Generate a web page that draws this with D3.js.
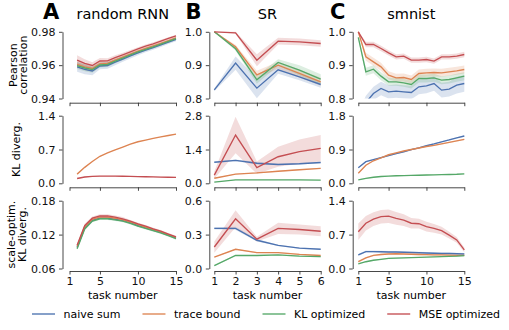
<!DOCTYPE html>
<html>
<head>
<meta charset="utf-8">
<script src="https://cdn.jsdelivr.net/npm/d3@7"></script>
<style>
  body { margin: 0; background: #fff; }
  svg { display: block; font-family: "DejaVu Sans", sans-serif; }
</style>
</head>
<body>
<div id="chart"></div>
<script>
// series order everywhere: naive sum, trace bound, KL optimized, MSE optimized
const seriesNames = ["naive sum", "trace bound", "KL optimized", "MSE optimized"];
const seriesColors = ["#4c72b0", "#dd8452", "#55a868", "#c44e52"];

const panelLetters = ["A", "B", "C"];
const panelTitles = ["random RNN", "SR", "smnist"];
const rowLabels = [["Pearson", "correlation"], ["KL diverg."], ["scale-optim.", "KL diverg."]];

// random RNN
const rnnTasks = [2, 3, 4, 5, 6, 7, 8, 9, 10, 11, 12, 13, 14, 15];
const rnnXTicks = [1, 5, 10, 15];
const rnnPearsonTicks = [0.94, 0.96, 0.98];
const rnnPearson = [
  [0.9590, 0.9575, 0.9565, 0.9595, 0.9598, 0.9618, 0.9636, 0.9655, 0.9673, 0.9690, 0.9705, 0.9721, 0.9738, 0.9755],
  [0.9605, 0.9590, 0.9580, 0.9608, 0.9610, 0.9630, 0.9648, 0.9666, 0.9684, 0.9700, 0.9715, 0.9731, 0.9747, 0.9763],
  [0.9597, 0.9583, 0.9573, 0.9601, 0.9604, 0.9624, 0.9642, 0.9661, 0.9679, 0.9695, 0.9710, 0.9726, 0.9742, 0.9759],
  [0.9630, 0.9610, 0.9598, 0.9625, 0.9626, 0.9645, 0.9662, 0.9680, 0.9698, 0.9714, 0.9728, 0.9744, 0.9760, 0.9775]
];
const rnnPearsonErr = [
  [0.003, 0.003, 0.0025, 0.002, 0.002, 0.0018, 0.0016, 0.0015, 0.0014, 0.0013, 0.0012, 0.0012, 0.0011, 0.0011],
  [0.002, 0.002, 0.0018, 0.0015, 0.0015, 0.0013, 0.0012, 0.0011, 0.001, 0.001, 0.001, 0.0009, 0.0009, 0.0009],
  [0.002, 0.002, 0.0018, 0.0015, 0.0015, 0.0013, 0.0012, 0.0011, 0.001, 0.001, 0.001, 0.0009, 0.0009, 0.0009],
  [0.003, 0.0025, 0.002, 0.0018, 0.0016, 0.0014, 0.0012, 0.0011, 0.001, 0.001, 0.0009, 0.0009, 0.0008, 0.0008]
];
const rnnKLTicks = [0.0, 0.7, 1.4];
const rnnKL = [
  null,
  [0.19, 0.33, 0.45, 0.56, 0.63, 0.69, 0.75, 0.81, 0.86, 0.895, 0.93, 0.96, 0.99, 1.02],
  null,
  [0.10, 0.13, 0.145, 0.15, 0.15, 0.148, 0.145, 0.142, 0.138, 0.135, 0.132, 0.128, 0.125, 0.122]
];
const rnnKLErr = [
  null,
  [0.005, 0.005, 0.005, 0.005, 0.005, 0.005, 0.005, 0.005, 0.005, 0.005, 0.005, 0.005, 0.005, 0.005],
  null,
  [0.008, 0.008, 0.008, 0.008, 0.008, 0.008, 0.008, 0.008, 0.008, 0.008, 0.008, 0.008, 0.008, 0.008]
];
const rnnScaleTicks = [0.06, 0.12, 0.18];
const rnnScale = [
  [0.097, 0.132, 0.145, 0.149, 0.149, 0.147, 0.145, 0.141, 0.136, 0.132, 0.128, 0.124, 0.119, 0.114],
  [0.099, 0.134, 0.147, 0.151, 0.151, 0.149, 0.146, 0.142, 0.138, 0.133, 0.129, 0.125, 0.120, 0.115],
  [0.095, 0.130, 0.144, 0.148, 0.148, 0.146, 0.144, 0.140, 0.135, 0.131, 0.127, 0.123, 0.118, 0.113],
  [0.101, 0.136, 0.149, 0.153, 0.153, 0.151, 0.148, 0.144, 0.139, 0.135, 0.130, 0.126, 0.121, 0.116]
];
const rnnScaleErr = [
  [0.002, 0.002, 0.002, 0.002, 0.002, 0.002, 0.002, 0.002, 0.002, 0.002, 0.002, 0.002, 0.002, 0.002],
  [0.002, 0.002, 0.002, 0.002, 0.002, 0.002, 0.002, 0.002, 0.002, 0.002, 0.002, 0.002, 0.002, 0.002],
  [0.002, 0.002, 0.002, 0.002, 0.002, 0.002, 0.002, 0.002, 0.002, 0.002, 0.002, 0.002, 0.002, 0.002],
  [0.003, 0.003, 0.003, 0.003, 0.003, 0.003, 0.003, 0.002, 0.002, 0.002, 0.002, 0.002, 0.002, 0.002]
];

// SR
const srTasks = [1, 2, 3, 4, 5, 6];
const srXTicks = [1, 2, 3, 4, 5, 6];
const srPearsonTicks = [0.8, 0.9, 1.0];
const srPearson = [
  [0.826, 0.906, 0.831, 0.886, 0.865, 0.842],
  [1.0, 0.955, 0.871, 0.900, 0.875, 0.850],
  [1.0, 0.949, 0.856, 0.908, 0.885, 0.858],
  [1.0, 0.997, 0.915, 0.972, 0.970, 0.965]
];
const srPearsonErr = [
  [0.004, 0.02, 0.03, 0.012, 0.01, 0.01],
  [0, 0.006, 0.012, 0.01, 0.012, 0.012],
  [0, 0.006, 0.012, 0.01, 0.015, 0.015],
  [0, 0.003, 0.018, 0.01, 0.01, 0.01]
];
const srKLTicks = [0.0, 1.4, 2.8];
const srKL = [
  [0.87, 0.95, 0.83, 0.78, 0.81, 0.86],
  [0.21, 0.38, 0.43, 0.50, 0.56, 0.62],
  [0.05, 0.14, 0.14, 0.14, 0.14, 0.13],
  [0.34, 2.0, 0.65, 1.10, 1.31, 1.45]
];
const srKLErr = [
  [0.03, 0.04, 0.05, 0.03, 0.03, 0.03],
  [0.02, 0.02, 0.02, 0.02, 0.02, 0.02],
  [0.01, 0.01, 0.01, 0.01, 0.01, 0.01],
  [0.15, 0.76, 0.25, 0.41, 0.5, 0.55]
];
const srScaleTicks = [0.0, 0.3, 0.6];
const srScale = [
  [0.355, 0.355, 0.25, 0.205, 0.18, 0.17],
  [0.10, 0.17, 0.14, 0.14, 0.125, 0.115],
  [0.025, 0.115, 0.115, 0.12, 0.11, 0.105],
  [0.19, 0.44, 0.26, 0.355, 0.345, 0.33]
];
const srScaleErr = [
  [0.01, 0.015, 0.01, 0.005, 0.005, 0.005],
  [0.005, 0.005, 0.005, 0.005, 0.005, 0.005],
  [0.005, 0.005, 0.005, 0.005, 0.005, 0.005],
  [0.05, 0.075, 0.02, 0.05, 0.045, 0.045]
];

// smnist
const smTasks = [1, 2, 3, 4, 5, 6, 7, 8, 9, 10, 11, 12, 13, 14, 15];
const smXTicks = [1, 5, 10, 15];
const smPearsonTicks = [0.8, 0.9, 1.0];
const smPearson = [
  [0.74, 0.788, 0.815, 0.830, 0.820, 0.822, 0.820, 0.818, 0.835, 0.838, 0.845, 0.825, 0.828, 0.840, 0.845],
  [1.0, 0.925, 0.910, 0.895, 0.870, 0.862, 0.863, 0.857, 0.875, 0.877, 0.878, 0.877, 0.880, 0.883, 0.887],
  [0.983, 0.880, 0.888, 0.867, 0.850, 0.850, 0.847, 0.842, 0.860, 0.860, 0.862, 0.855, 0.857, 0.862, 0.867],
  [1.0, 0.962, 0.962, 0.950, 0.937, 0.925, 0.927, 0.915, 0.915, 0.917, 0.912, 0.925, 0.925, 0.927, 0.932]
];
const smPearsonErr = [
  [0.02, 0.02, 0.02, 0.02, 0.02, 0.02, 0.02, 0.02, 0.022, 0.022, 0.022, 0.022, 0.022, 0.025, 0.025],
  [0, 0.012, 0.012, 0.012, 0.012, 0.012, 0.012, 0.012, 0.012, 0.012, 0.012, 0.012, 0.012, 0.012, 0.012],
  [0.004, 0.012, 0.012, 0.012, 0.012, 0.012, 0.012, 0.012, 0.012, 0.012, 0.012, 0.012, 0.012, 0.012, 0.012],
  [0, 0.008, 0.008, 0.008, 0.008, 0.008, 0.008, 0.008, 0.008, 0.008, 0.008, 0.008, 0.008, 0.008, 0.008]
];
const smKLTicks = [0.0, 0.9, 1.8];
const smKL = [
  [0.415, 0.575, 0.63, 0.685, 0.735, 0.79, 0.84, 0.895, 0.945, 1.0, 1.05, 1.105, 1.155, 1.21, 1.26],
  [0.27, 0.48, 0.60, 0.68, 0.76, 0.81, 0.86, 0.90, 0.94, 0.98, 1.01, 1.05, 1.09, 1.13, 1.17],
  [0.09, 0.13, 0.16, 0.18, 0.19, 0.20, 0.205, 0.21, 0.215, 0.22, 0.225, 0.23, 0.235, 0.24, 0.25],
  null
];
const smKLErr = [
  [0.015, 0.015, 0.015, 0.015, 0.015, 0.015, 0.015, 0.015, 0.015, 0.015, 0.015, 0.015, 0.015, 0.015, 0.015],
  [0.015, 0.015, 0.015, 0.015, 0.015, 0.015, 0.015, 0.015, 0.015, 0.015, 0.015, 0.015, 0.015, 0.015, 0.015],
  [0.01, 0.01, 0.01, 0.01, 0.01, 0.01, 0.01, 0.01, 0.01, 0.01, 0.01, 0.01, 0.01, 0.01, 0.01],
  null
];
const smScaleTicks = [0.0, 0.7, 1.4];
const smScale = [
  [0.28, 0.35, 0.35, 0.345, 0.34, 0.34, 0.335, 0.33, 0.325, 0.32, 0.315, 0.31, 0.31, 0.305, 0.30],
  [0.14, 0.22, 0.27, 0.29, 0.30, 0.305, 0.30, 0.295, 0.29, 0.285, 0.28, 0.28, 0.275, 0.27, 0.27],
  [0.097, 0.14, 0.17, 0.19, 0.21, 0.215, 0.22, 0.225, 0.23, 0.235, 0.24, 0.245, 0.25, 0.255, 0.265],
  [0.76, 0.935, 1.02, 1.07, 1.08, 1.035, 1.0, 0.935, 0.925, 0.865, 0.83, 0.78, 0.69, 0.59, 0.385]
];
const smScaleErr = [
  [0.02, 0.02, 0.02, 0.02, 0.02, 0.02, 0.02, 0.02, 0.02, 0.02, 0.02, 0.02, 0.02, 0.02, 0.02],
  [0.015, 0.015, 0.015, 0.015, 0.015, 0.015, 0.015, 0.015, 0.015, 0.015, 0.015, 0.015, 0.015, 0.015, 0.015],
  [0.01, 0.01, 0.01, 0.01, 0.01, 0.01, 0.01, 0.01, 0.01, 0.01, 0.01, 0.01, 0.01, 0.01, 0.01],
  [0.17, 0.15, 0.14, 0.14, 0.14, 0.13, 0.12, 0.11, 0.1, 0.1, 0.09, 0.08, 0.07, 0.06, 0.05]
];

// ---- layout ----
const width = 509, height = 330;
const cols = [
  { x0: 69.5, x1: 176, spine: 62.5, domain: [1, 15], tasks: rnnTasks, xticks: rnnXTicks },
  { x0: 214.3, x1: 320.7, spine: 209.3, domain: [1, 6], tasks: srTasks, xticks: srXTicks },
  { x0: 358.3, x1: 464.3, spine: 352.7, domain: [1, 15], tasks: smTasks, xticks: smXTicks }
];
const rows = [
  { y0: 31.8, y1: 98.5, axisY: 102.7 },
  { y0: 115.7, y1: 183.3, axisY: 187.3 },
  { y0: 200.7, y1: 268.5, axisY: 271 }
];
const panels = [
  [[rnnPearson, rnnPearsonErr, rnnPearsonTicks, ".2f"], [rnnKL, rnnKLErr, rnnKLTicks, ".1f"], [rnnScale, rnnScaleErr, rnnScaleTicks, ".2f"]],
  [[srPearson, srPearsonErr, srPearsonTicks, ".1f"], [srKL, srKLErr, srKLTicks, ".1f"], [srScale, srScaleErr, srScaleTicks, ".1f"]],
  [[smPearson, smPearsonErr, smPearsonTicks, ".1f"], [smKL, smKLErr, smKLTicks, ".1f"], [smScale, smScaleErr, smScaleTicks, ".1f"]]
];

const svg = d3.select("#chart").append("svg")
  .attr("width", width)
  .attr("height", height);

const axisColor = "#333";

cols.forEach((col, ci) => {
  // panel letter + title
  svg.append("text")
    .attr("x", [43, 185.5, 330][ci]).attr("y", 19)
    .attr("font-size", 21).attr("font-weight", "bold")
    .text(panelLetters[ci]);
  svg.append("text")
    .attr("x", (col.x0 + col.x1) / 2).attr("y", 18.5)
    .attr("text-anchor", "middle").attr("font-size", 14.5)
    .text(panelTitles[ci]);

  rows.forEach((row, ri) => {
    const [means, errs, yticks, fmt] = panels[ci][ri];
    const x = d3.scaleLinear().domain(col.domain).range([col.x0, col.x1]);
    const y = d3.scaleLinear().domain([yticks[0], yticks[yticks.length - 1]]).range([row.y1, row.y0]);

    const clipId = `clip-${ci}-${ri}`;
    svg.append("clipPath").attr("id", clipId)
      .append("rect")
        .attr("x", col.spine).attr("y", row.y0 - 3)
        .attr("width", col.x1 - col.spine + 3).attr("height", row.y1 - row.y0 + 3);

    const g = svg.append("g").attr("clip-path", `url(#${clipId})`);

    const area = d3.area()
      .x((d, i) => x(col.tasks[i]))
      .y0(d => y(d[0] - d[1]))
      .y1(d => y(d[0] + d[1]));
    const line = d3.line()
      .x((d, i) => x(col.tasks[i]))
      .y(d => y(d));

    // bands first, then the lines
    means.forEach((m, si) => {
      if (!m) return;
      g.append("path")
        .datum(m.map((v, i) => [v, errs[si][i]]))
        .attr("d", area)
        .attr("fill", seriesColors[si])
        .attr("fill-opacity", 0.2);
    });
    means.forEach((m, si) => {
      if (!m) return;
      g.append("path")
        .datum(m)
        .attr("d", line)
        .attr("fill", "none")
        .attr("stroke", seriesColors[si])
        .attr("stroke-width", 1.35);
    });

    // y axis (trimmed spine)
    const ya = svg.append("g")
      .attr("transform", `translate(${col.spine},0)`)
      .call(d3.axisLeft(y).tickValues(yticks).tickFormat(d3.format(fmt))
        .tickSize(3.5).tickSizeOuter(0).tickPadding(3.5));
    // x axis, labels only on bottom row
    const xa = svg.append("g")
      .attr("transform", `translate(0,${row.axisY})`)
      .call(d3.axisBottom(x).tickValues(col.xticks)
        .tickFormat(ri === 2 ? d3.format("d") : () => "")
        .tickSize(3.5).tickSizeOuter(0).tickPadding(3));
    [ya, xa].forEach(a => {
      a.select(".domain").attr("stroke", axisColor).attr("stroke-width", 0.9);
      a.selectAll(".tick line").attr("stroke", axisColor).attr("stroke-width", 0.9);
      a.selectAll(".tick text").attr("font-size", 11).attr("fill", "#111")
        .attr("font-family", "DejaVu Sans");
    });

    if (ri === 2) {
      svg.append("text")
        .attr("x", (col.x0 + col.x1) / 2).attr("y", 298.5)
        .attr("text-anchor", "middle").attr("font-size", 11)
        .text("task number");
    }
  });
});

// row labels (rotated)
const labelBaselines = [[17, 27], [19.5], [14.5, 26]];
rows.forEach((row, ri) => {
  const cy = (row.y0 + row.y1) / 2;
  rowLabels[ri].forEach((txt, li) => {
    svg.append("text")
      .attr("transform", `translate(${labelBaselines[ri][li]},${cy}) rotate(-90)`)
      .attr("text-anchor", "middle").attr("font-size", 11)
      .text(txt);
  });
});

// legend
const legend = svg.append("g").attr("transform", "translate(0,314)");
let lx = 32;
seriesNames.forEach((name, i) => {
  legend.append("line")
    .attr("x1", lx).attr("x2", lx + 23)
    .attr("stroke", seriesColors[i]).attr("stroke-width", 1.35);
  const t = legend.append("text")
    .attr("x", lx + 31.5).attr("y", 4)
    .attr("font-size", 11)
    .text(name);
  lx += 31.5 + t.node().getComputedTextLength() + 22;
});
</script>
</body>
</html>
